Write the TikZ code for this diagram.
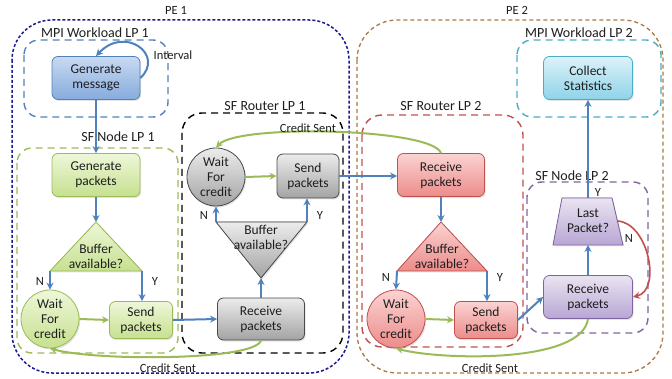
\documentclass[tikz,border=0pt]{standalone}
\usepackage{fontspec}
\setmainfont{Carlito}
\usetikzlibrary{arrows.meta,calc,shadows}
\definecolor{barrowc}{HTML}{4F81BD}
\definecolor{garrowc}{HTML}{9BBB59}
\definecolor{pea}{HTML}{1C1C8F}
\definecolor{peb}{HTML}{A67B45}
\definecolor{mpia}{HTML}{4F81BD}
\definecolor{nodea}{HTML}{9BBB59}
\definecolor{routb}{HTML}{C0504D}
\definecolor{nodeb}{HTML}{8064A2}
\definecolor{mpib}{HTML}{4BACC6}
\definecolor{txt}{HTML}{1E1E1E}
\definecolor{btop}{HTML}{C9DAF1}
\definecolor{bbot}{HTML}{86ABDD}
\definecolor{gtop}{HTML}{EEF7D9}
\definecolor{gbot}{HTML}{C6E08F}
\definecolor{ktop}{HTML}{ECECEC}
\definecolor{kbot}{HTML}{A3A3A3}
\definecolor{kbord}{HTML}{4A4A4A}
\definecolor{rtop}{HTML}{FAD3D2}
\definecolor{rbot}{HTML}{EC8C8A}
\definecolor{ptop}{HTML}{EAE4F1}
\definecolor{pbot}{HTML}{B7A6D4}
\definecolor{ctop}{HTML}{DDF2F9}
\definecolor{cbot}{HTML}{8ED3E9}
\tikzset{
  nodefont/.style={font=\fontsize{13.5}{15}\selectfont, text=txt},
  lblfont/.style={font=\fontsize{12.5}{14}\selectfont, text=txt},
  boxlbl/.style={font=\fontsize{14}{16}\selectfont, text=txt},
  softshadow/.style={drop shadow={opacity=0.22, shadow xshift=1.2pt, shadow yshift=-1.5pt}},
  procbox/.style={rectangle, rounded corners=6, line width=0.8, align=center, nodefont, softshadow},
  waitc/.style={circle, minimum size=58, inner sep=0, line width=0.8, align=center, nodefont, softshadow},
  bluefill/.style={draw=mpia, top color=btop, bottom color=bbot},
  greenfill/.style={draw=nodea, top color=gtop, bottom color=gbot},
  grayfill/.style={draw=kbord, top color=ktop, bottom color=kbot},
  redfill/.style={draw=routb, top color=rtop, bottom color=rbot},
  purplefill/.style={draw=nodeb, top color=ptop, bottom color=pbot},
  cyanfill/.style={draw=mpib, top color=ctop, bottom color=cbot},
  lpbox/.style={line width=1.4, dash pattern=on 7pt off 5pt, rounded corners=15},
  barrow/.style={draw=barrowc, line width=2, -{Stealth[length=7pt,width=7pt]}},
  garrow/.style={draw=garrowc, line width=2, -{Stealth[length=7pt,width=7pt]}},
  rarrow/.style={draw=routb, line width=1.6, -{Stealth[length=7pt,width=7pt]}},
}
\begin{document}
\begin{tikzpicture}[x=1pt,y=-1pt]
\useasboundingbox (0,0) rectangle (672,379);

% ---------- container boxes ----------
\draw[pea, line width=1.5, dash pattern=on 3pt off 2pt, rounded corners=40] (12,20) rectangle (349,373);
\draw[peb, line width=1.3, dash pattern=on 4pt off 3pt, rounded corners=40] (357,20) rectangle (663,373);
\draw[lpbox, draw=mpia] (24,40) rectangle (168,117);
\draw[lpbox, draw=nodea] (17,148) rectangle (178,353);
\draw[lpbox, draw=black, rounded corners=20] (182,113) rectangle (343,353);
\draw[lpbox, draw=routb, rounded corners=20] (362,115) rectangle (523,347);
\draw[lpbox, draw=nodeb] (527,182) rectangle (648,333);
\draw[lpbox, draw=mpib] (517,40) rectangle (661,117);

\node[lblfont] (pe1) at (176,10) {PE 1};
\node[lblfont] (pe2) at (517,10) {PE 2};
\node[boxlbl] (lmpi1) at (95,33) {MPI Workload LP 1};
\node[boxlbl] (lnode1) at (118,137) {SF Node LP 1};
\node[boxlbl] (lrout1) at (265,106) {SF Router LP 1};
\node[boxlbl] (lrout2) at (441,106) {SF Router LP 2};
\node[boxlbl] (lmpi2) at (579,33) {MPI Workload LP 2};
\node[boxlbl] (lnode2) at (572,176) {SF Node LP 2};

% ---------- PE1 / MPI LP1 and SF Node LP1 ----------
\node[procbox, bluefill, minimum width=88, minimum height=43] (gm) at (96,78) {Generate\\message};
\node[procbox, greenfill, minimum width=88, minimum height=43] (gp) at (96,175) {Generate\\packets};
\coordinate (t1a) at (96,222);
\coordinate (t1l) at (50,271);
\coordinate (t1r) at (142,271);
\filldraw[greenfill, line width=0.8, line join=round, softshadow] (t1a) -- (t1r) -- (t1l) -- cycle;
\node[nodefont, align=center] (t1txt) at (96,256) {Buffer\\available?};
\node[waitc, greenfill] (w1) at (50,319) {Wait\\For\\credit};
\node[procbox, greenfill, minimum width=63, minimum height=37] (s1) at (141,320) {Send\\packets};

% ---------- SF Router LP1 ----------
\node[procbox, grayfill, minimum width=87, minimum height=42] (r1) at (261,319) {Receive\\packets};
\coordinate (t2a) at (261,278);
\coordinate (t2l) at (216,222);
\coordinate (t2r) at (307,222);
\filldraw[grayfill, line width=0.8, line join=round, softshadow] (t2a) -- (t2r) -- (t2l) -- cycle;
\node[nodefont, align=center] (t2txt) at (261,237) {Buffer\\available?};
\node[waitc, grayfill] (w2) at (216,177) {Wait\\For\\credit};
\node[procbox, grayfill, minimum width=62, minimum height=44] (s2) at (308,176) {Send\\packets};

% ---------- SF Router LP2 ----------
\node[procbox, redfill, minimum width=87, minimum height=43] (r2) at (441,175) {Receive\\packets};
\coordinate (t3a) at (441,222);
\coordinate (t3l) at (397,271);
\coordinate (t3r) at (487,271);
\filldraw[redfill, line width=0.8, line join=round, softshadow] (t3a) -- (t3r) -- (t3l) -- cycle;
\node[nodefont, align=center] (t3txt) at (442,256) {Buffer\\available?};
\node[waitc, redfill] (w3) at (396,319) {Wait\\For\\credit};
\node[procbox, redfill, minimum width=63, minimum height=37] (s3) at (486,320) {Send\\packets};

% ---------- SF Node LP2 / MPI LP2 ----------
\node[procbox, purplefill, minimum width=89, minimum height=43] (r3) at (588,297) {Receive\\packets};
\coordinate (qtl) at (562,198);
\coordinate (qtr) at (612,198);
\coordinate (qbr) at (623,245);
\coordinate (qbl) at (553,245);
\coordinate (qtop) at (588,198);
\coordinate (qbot) at (588,245);
\coordinate (qright) at (617,221);
\filldraw[purplefill, line width=0.8, line join=round, softshadow] (qtl) -- (qtr) -- (qbr) -- (qbl) -- cycle;
\node[nodefont, align=center] (qtxt) at (588,221) {Last\\Packet?};
\node[procbox, cyanfill, minimum width=89, minimum height=43] (cs) at (588,78) {Collect\\Statistics};

% ---------- connectors ----------
\draw[barrow] (gm.east) .. controls (165,55) and (125,25) .. (gm.north);
\node[lblfont] (interval) at (173,55) {Interval};
\draw[barrow] (gm.south) -- (gp.north);
\draw[barrow] (gp.south) -- (t1a);
\draw[barrow] (t1l) -- (w1.north);
\draw[barrow] (t1r) -- (t1r |- s1.north);
\node[lblfont] (n1) at (40,281) {N};
\node[lblfont] (y1) at (155,281) {Y};
\draw[garrow] (w1.east) -- (s1.west);
\draw[barrow] (s1.east) -- (r1.west);

\draw[barrow] (r1.north) -- (t2a);
\draw[barrow] (t2l) -- (w2.south);
\draw[barrow] (t2r) -- (t2r |- s2.south);
\node[lblfont] (n2) at (204,215) {N};
\node[lblfont] (y2) at (320,215) {Y};
\draw[garrow] (w2.east) -- (s2.west);
\draw[barrow] (s2.east) -- (s2.east -| r2.west);

\draw[barrow] (r2.south) -- (t3a);
\draw[barrow] (t3l) -- (w3.north);
\draw[barrow] (t3r) -- (t3r |- s3.north);
\node[lblfont] (n3) at (386,277) {N};
\node[lblfont] (y3) at (500,277) {Y};
\draw[garrow] (w3.east) -- (s3.west);
\draw[barrow] (s3.east) -- (r3.west);

\draw[barrow] (r3.north) -- (qbot);
\draw[barrow] (qtop) -- (cs.south);
\node[lblfont] (y4) at (598,192) {Y};
\draw[rarrow] (qright) .. controls (648,222) and (662,290) .. (r3.east);
\node[lblfont] (n4) at (629,238) {N};

% credit sent
\draw[garrow] (r2.north) .. controls (432,128) and (238,124) .. (w2.north);
\node[lblfont] (cs1) at (308,128) {Credit Sent};
\draw[garrow] (r1.south) .. controls (255,361) and (95,361) .. (w1.south);
\node[lblfont] (cs2) at (168,368) {Credit Sent};
\draw[garrow] (r3.south) .. controls (582,364) and (440,360) .. (w3.south);
\node[lblfont] (cs3) at (490,368) {Credit Sent};
\end{tikzpicture}
\end{document}
